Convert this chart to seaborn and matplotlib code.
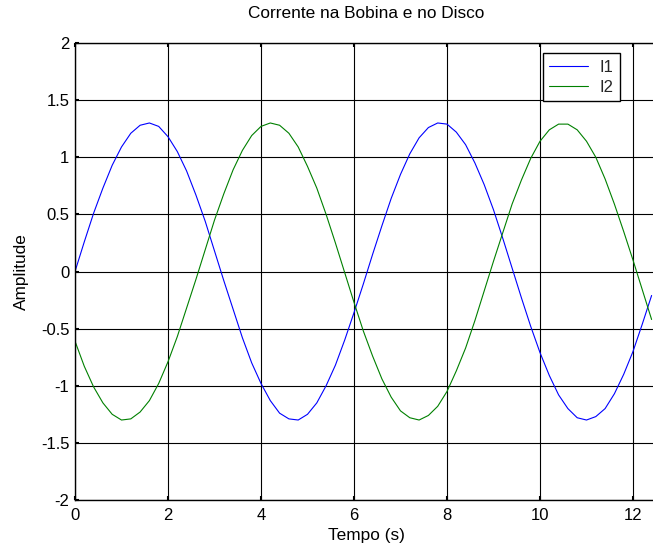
import matplotlib
matplotlib.use("Agg")
import matplotlib.pyplot as plt
import seaborn as sns
import pandas as pd
from matplotlib.lines import Line2D

# Data (time in s, amplitude)
tempo = [0.0, 0.2, 0.4, 0.6, 0.8, 1.0, 1.2, 1.4, 1.6, 1.8,
         2.0, 2.2, 2.4, 2.6, 2.8, 3.0, 3.2, 3.4, 3.6, 3.8,
         4.0, 4.2, 4.4, 4.6, 4.8, 5.0, 5.2, 5.4, 5.6, 5.8,
         6.0, 6.2, 6.4, 6.6, 6.8, 7.0, 7.2, 7.4, 7.6, 7.8,
         8.0, 8.2, 8.4, 8.6, 8.8, 9.0, 9.2, 9.4, 9.6, 9.8,
         10.0, 10.2, 10.4, 10.6, 10.8, 11.0, 11.2, 11.4, 11.6, 11.8,
         12.0, 12.2, 12.4]
i1 = [0.00, 0.26, 0.51, 0.73, 0.93, 1.09, 1.21, 1.28, 1.30, 1.27,
      1.18, 1.05, 0.88, 0.67, 0.44, 0.18, -0.08, -0.33, -0.58, -0.80,
      -0.98, -1.13, -1.24, -1.29, -1.30, -1.25, -1.15, -1.00, -0.82, -0.60,
      -0.36, -0.11, 0.15, 0.40, 0.64, 0.85, 1.03, 1.17, 1.26, 1.30,
      1.29, 1.22, 1.11, 0.95, 0.76, 0.54, 0.29, 0.03, -0.23, -0.48,
      -0.71, -0.91, -1.08, -1.20, -1.28, -1.30, -1.27, -1.20, -1.07, -0.90,
      -0.70, -0.46, -0.21]
i2 = [-0.61, -0.83, -1.01, -1.15, -1.25, -1.30, -1.29, -1.23, -1.13, -0.98,
      -0.79, -0.57, -0.32, -0.07, 0.19, 0.45, 0.68, 0.89, 1.06, 1.19,
      1.27, 1.30, 1.28, 1.21, 1.09, 0.92, 0.73, 0.50, 0.25, -0.01,
      -0.27, -0.52, -0.74, -0.94, -1.10, -1.22, -1.28, -1.30, -1.26, -1.18,
      -1.05, -0.87, -0.67, -0.43, -0.17, 0.09, 0.34, 0.59, 0.80, 0.99,
      1.14, 1.24, 1.29, 1.29, 1.24, 1.14, 1.00, 0.81, 0.59, 0.35,
      0.10, -0.16, -0.42]
series_names = ["I1", "I2"]
x_ticks = [0, 2, 4, 6, 8, 10, 12]
y_ticks = [-2, -1.5, -1, -0.5, 0, 0.5, 1, 1.5, 2]
y_tick_labels = ["-2", "-1.5", "-1", "-0.5", "0", "0.5", "1", "1.5", "2"]

df = pd.DataFrame({
    "Tempo": tempo * 2,
    "Amplitude": i1 + i2,
    "Serie": [series_names[0]] * len(tempo) + [series_names[1]] * len(tempo),
})

sns.set_theme(style="white")
plt.rcParams["font.family"] = ["Liberation Sans", "DejaVu Sans"]

W, H = 653, 544
FS = 12
fig = plt.figure(figsize=(W / 100, H / 100), dpi=100)
left, right, top, bottom = 75, 653, 43, 500
aw, ah = right - left, bottom - top
ax = fig.add_axes([left / W, (H - bottom) / H, aw / W, ah / H])

sns.lineplot(data=df, x="Tempo", y="Amplitude", hue="Serie",
             palette={"I1": "#0000ff", "I2": "#008000"},
             linewidth=0.8, ax=ax, legend=False, estimator=None, sort=False)

ax.set_xlim(0, aw / 46.5)
ax.set_ylim(-2, 2)
ax.set_xticks(x_ticks)
ax.set_xticklabels([str(v) for v in x_ticks])
ax.set_yticks(y_ticks)
ax.set_yticklabels(y_tick_labels)
ax.grid(True, color="black", linewidth=0.8, linestyle="-")
ax.set_axisbelow(True)
ax.tick_params(direction="in", length=3, width=1.5, colors="black",
               labelsize=FS, top=True, bottom=True, left=True)
ax.tick_params(axis="x", pad=6)
ax.tick_params(axis="y", pad=4)
for s in ["left", "bottom", "top"]:
    ax.spines[s].set_visible(True)
    ax.spines[s].set_color("black")
    ax.spines[s].set_linewidth(1.0)
ax.spines["right"].set_visible(False)

ax.set_xlabel("Tempo (s)", fontsize=12.4, color="black")
ax.xaxis.label.set_va("baseline")
ax.xaxis.set_label_coords((366 - left) / aw, -(540 - bottom) / ah)
ax.set_ylabel("Amplitude", fontsize=12.4, color="black")
ax.yaxis.label.set_va("center")
ax.yaxis.set_label_coords((21 - left) / aw, (bottom - 272) / ah)

ax.set_title("Corrente na Bobina e no Disco", fontsize=12.4, color="black",
             x=(366 - left) / aw, y=(bottom - 26) / ah, va="baseline")

handles = [Line2D([0], [0], color="#0000ff", lw=0.8),
           Line2D([0], [0], color="#008000", lw=0.8)]
leg = ax.legend(handles, series_names, loc="upper right",
                bbox_to_anchor=((620 - left) / aw, (bottom - 53) / ah),
                borderaxespad=0, fancybox=False, framealpha=1, edgecolor="black",
                fontsize=FS, handlelength=2.3, handletextpad=0.7, labelspacing=0.3,
                borderpad=0.4)
leg.get_frame().set_linewidth(1.0)

fig.savefig("out.png", dpi=100)
